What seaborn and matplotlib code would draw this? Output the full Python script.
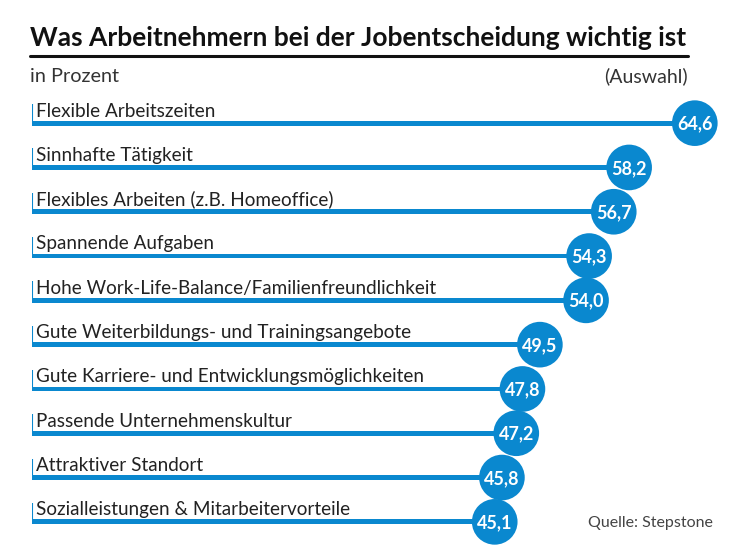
import numpy as np
import pandas as pd
import matplotlib
matplotlib.use("Agg")
import matplotlib.pyplot as plt
import seaborn as sns

categories = [
    "Flexible Arbeitszeiten",
    "Sinnhafte Tätigkeit",
    "Flexibles Arbeiten (z.B. Homeoffice)",
    "Spannende Aufgaben",
    "Hohe Work-Life-Balance/Familienfreundlichkeit",
    "Gute Weiterbildungs- und Trainingsangebote",
    "Gute Karriere- und Entwicklungsmöglichkeiten",
    "Passende Unternehmenskultur",
    "Attraktiver Standort",
    "Sozialleistungen & Mitarbeitervorteile",
]
values = [64.6, 58.2, 56.7, 54.3, 54.0, 49.5, 47.8, 47.2, 45.8, 45.1]

df = pd.DataFrame({"Kategorie": categories, "Wert": values})

blue = "#0a88cf"
sns.set_style("white")
plt.rcParams["font.family"] = ["Lato", "DejaVu Sans"]

fig = plt.figure(figsize=(7.37, 5.49), dpi=100)
ax = fig.add_axes([32 / 737, 5 / 549, 705 / 737, 443 / 549])

# thin bars
sns.barplot(data=df, y="Kategorie", x="Wert", orient="h", color=blue,
            width=0.11, saturation=1, ax=ax, linewidth=0)
# circles at bar ends
sns.scatterplot(data=df, y="Kategorie", x="Wert", s=1080, color=blue,
                edgecolor="none", ax=ax, zorder=3, clip_on=False)

for i, (cat, val) in enumerate(zip(categories, values)):
    ax.vlines(0, i - 0.43, i, color=blue, lw=1.5)
    ax.text(0.4, i - 0.15, cat, fontsize=13.6, color="#222222", va="baseline", ha="left")
    ax.text(val, i + 0.02, f"{val:.1f}".replace(".", ","), color="white",
            fontsize=13, fontweight="bold", ha="center", va="center", zorder=4)

ax.set_xlim(0, 705 / 10.26)
ax.set_ylim(9.5, -0.5)
ax.axis("off")

fig.text(30 / 737, 1 - 38 / 549, "Was Arbeitnehmern bei der Jobentscheidung wichtig ist",
         fontsize=19, fontweight="bold", va="center", ha="left", color="#111111")
fig.add_artist(plt.Line2D([30 / 737, 688 / 737], [1 - 56 / 549] * 2, color="#111111", lw=2.2))
fig.text(30 / 737, 1 - 76 / 549, "in Prozent", fontsize=14.3, va="center", color="#333333")
fig.text(688 / 737, 1 - 76 / 549, "(Auswahl)", fontsize=14, va="center", ha="right", color="#333333")
fig.text(713 / 737, 1 - 523 / 549, "Quelle: Stepstone", fontsize=11.5, va="center", ha="right", color="#444444")

fig.savefig("out.png", dpi=100)
